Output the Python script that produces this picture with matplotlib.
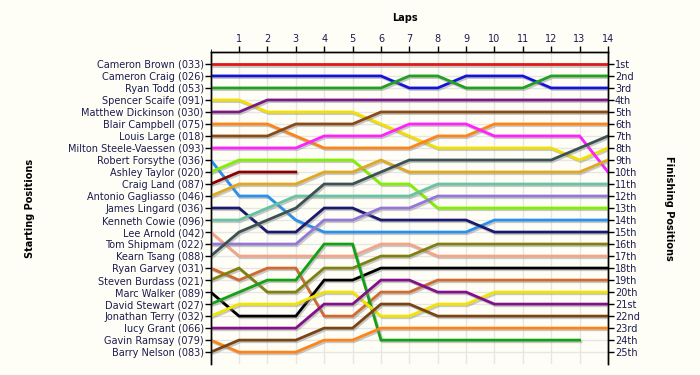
import matplotlib
matplotlib.use("Agg")
import matplotlib.pyplot as plt
import matplotlib.patheffects as pe

drivers = ["Cameron Brown (033)", "Cameron Craig (026)", "Ryan Todd (053)", "Spencer Scaife (091)",
           "Matthew Dickinson (030)", "Blair Campbell (075)", "Louis Large (018)",
           "Milton Steele-Vaessen (093)", "Robert Forsythe (036)", "Ashley Taylor (020)",
           "Craig Land (087)", "Antonio Gagliasso (046)", "James Lingard (036)", "Kenneth Cowie (096)",
           "Lee Arnold (042)", "Tom Shipmam (022)", "Kearn Tsang (088)", "Ryan Garvey (031)",
           "Steven Burdass (021)", "Marc Walker (089)", "David Stewart (027)", "Jonathan Terry (032)",
           "Iucy Grant (066)", "Gavin Ramsay (079)", "Barry Nelson (083)"]

laps = list(range(0, 15))

positions = [
    [1, 1, 1, 1, 1, 1, 1, 1, 1, 1, 1, 1, 1, 1, 1],
    [2, 2, 2, 2, 2, 2, 2, 3, 3, 2, 2, 2, 3, 3, 3],
    [3, 3, 3, 3, 3, 3, 3, 2, 2, 3, 3, 3, 2, 2, 2],
    [4, 4, 5, 5, 5, 5, 6, 7, 8, 8, 8, 8, 8, 9, 8],
    [5, 5, 4, 4, 4, 4, 4, 4, 4, 4, 4, 4, 4, 4, 4],
    [6, 6, 6, 7, 8, 8, 8, 8, 7, 7, 6, 6, 6, 6, 6],
    [7, 7, 7, 6, 6, 6, 5, 5, 5, 5, 5, 5, 5, 5, 5],
    [8, 8, 8, 8, 7, 7, 7, 6, 6, 6, 7, 7, 7, 7, 10],
    [9, 12, 12, 14, 15, 15, 15, 15, 15, 15, 14, 14, 14, 14, 14],
    [10, 9, 9, 9, 9, 9, 11, 11, 13, 13, 13, 13, 13, 13, 13],
    [11, 10, 10, 10],
    [12, 11, 11, 11, 10, 10, 9, 10, 10, 10, 10, 10, 10, 10, 9],
    [13, 13, 15, 15, 13, 13, 14, 14, 14, 14, 15, 15, 15, 15, 15],
    [14, 14, 13, 12, 12, 12, 12, 12, 11, 11, 11, 11, 11, 11, 11],
    [15, 17, 17, 17, 17, 17, 16, 16, 17, 17, 17, 17, 17, 17, 17],
    [16, 16, 16, 16, 14, 14, 13, 13, 12, 12, 12, 12, 12, 12, 12],
    [17, 15, 14, 13, 11, 11, 10, 9, 9, 9, 9, 9, 9, 8, 7],
    [18, 19, 18, 18, 22, 22, 20, 20, 19, 19, 19, 19, 19, 19, 19],
    [19, 18, 20, 20, 18, 18, 17, 17, 16, 16, 16, 16, 16, 16, 16],
    [20, 22, 22, 22, 19, 19, 18, 18, 18, 18, 18, 18, 18, 18, 18],
    [21, 20, 19, 19, 16, 16, 24, 24, 24, 24, 24, 24, 24, 24],
    [22, 21, 21, 21, 20, 20, 22, 22, 21, 21, 20, 20, 20, 20, 20],
    [23, 23, 23, 23, 21, 21, 19, 19, 20, 20, 21, 21, 21, 21, 21],
    [24, 25, 25, 25, 24, 24, 23, 23, 23, 23, 23, 23, 23, 23, 23],
    [25, 24, 24, 24, 23, 23, 21, 21, 22, 22, 22, 22, 22, 22, 22],
]

colors = ["#e01818", "#1414d8", "#22a022", "#f2e000", "#7a1a86", "#ff8418", "#8a4a14",
          "#ff22ff", "#2a90f0", "#80f000", "#8b0000", "#e0a820", "#1a1a6e", "#66c4a4",
          "#f4a488", "#9478d8", "#3a5252", "#d06a30", "#808010", "#000000", "#14a014",
          "#f2e400", "#82108a", "#ff8418", "#7a4414"]

finish_labels = ["1st", "2nd", "3rd"] + [f"{i}th" for i in range(4, 21)] + ["21st", "22nd", "23rd", "24th", "25th"]

bg = "#fefef6"
txt = "#1c1c50"
plt.rcParams['font.family'] = ['DejaVu Sans']

fig = plt.figure(figsize=(7, 3.75), dpi=100, facecolor=bg)
ax = fig.add_axes([0.301, 0.029, 0.5675, 0.8325], facecolor=bg)

for pos, col in zip(positions, colors):
    ax.plot(laps[:len(pos)], pos, color=col, lw=2.0, solid_joinstyle='miter',
            path_effects=[pe.SimpleLineShadow(offset=(1, -1.2), shadow_color='#888888', alpha=0.45),
                          pe.Normal()], zorder=3)

ax.set_xlim(0, 14)
ax.set_ylim(26, 0)

ax.xaxis.tick_top()
ax.set_xticks(range(1, 15))
ax.set_xticklabels([str(i) for i in range(1, 15)], fontsize=7, color=txt)
ax.tick_params(axis='x', direction='out', length=4, width=1, color='black', pad=2)

ax.set_yticks(range(1, 26))
ax.set_yticklabels(drivers, fontsize=7, color=txt)
ax.tick_params(axis='y', direction='out', length=4, width=1, color='black', pad=1)

ax2 = ax.twinx()
ax2.set_ylim(26, 0)
ax2.set_yticks(range(1, 26))
ax2.set_yticklabels(finish_labels, fontsize=7, color=txt)
ax2.tick_params(axis='y', direction='out', length=4, width=1, color='black', pad=1)

for a in (ax, ax2):
    a.spines['bottom'].set_visible(False)
    for s in ('top', 'left', 'right'):
        a.spines[s].set_color('black')
        a.spines[s].set_linewidth(1)

ax.set_xticks([l for l in laps], minor=True)
ax.grid(True, which='major', axis='both', color='#e6e6e6', lw=1, zorder=0)

fig.text(0.578, 0.952, "Laps", ha='center', va='center', fontsize=7, fontweight='bold', color='black')
fig.text(0.043, 0.445, "Starting Positions", ha='center', va='center', rotation=90,
         fontsize=7, fontweight='bold', color='black')
fig.text(0.955, 0.445, "Finishing Positions", ha='center', va='center', rotation=270,
         fontsize=7, fontweight='bold', color='black')

fig.savefig("out.png", dpi=100, facecolor=bg)
